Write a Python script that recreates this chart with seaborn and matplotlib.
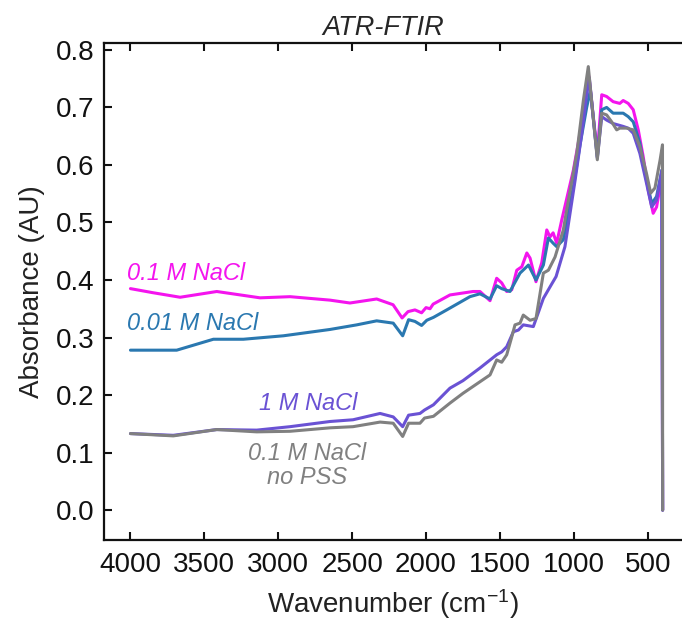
import numpy as np
import pandas as pd
import matplotlib
matplotlib.use('Agg')
import matplotlib.pyplot as plt
import seaborn as sns

# spectra (wavenumber in cm-1, absorbance in AU)
wn_01 = [4000, 3850, 3664, 3416, 3123, 2920, 2650, 2515, 2334, 2223, 2162, 2122, 2075, 2030, 2000, 1973,
         1952, 1838, 1682, 1635, 1567, 1522, 1488, 1454, 1420, 1386, 1352, 1318, 1296, 1256, 1217, 1183,
         1161, 1140, 1116, 1082, 1003, 958, 913, 898, 841, 811, 778, 734, 689, 666, 632, 598, 564, 530,
         497, 463, 440, 416, 404, 399]
abs_01 = [0.385, 0.378, 0.370, 0.380, 0.369, 0.371, 0.365, 0.360, 0.367, 0.357, 0.334, 0.345, 0.348, 0.343,
          0.352, 0.350, 0.358, 0.374, 0.380, 0.380, 0.364, 0.403, 0.395, 0.380, 0.383, 0.417, 0.423, 0.447,
          0.438, 0.397, 0.430, 0.487, 0.475, 0.482, 0.464, 0.504, 0.591, 0.655, 0.730, 0.754, 0.620, 0.722,
          0.719, 0.710, 0.707, 0.712, 0.707, 0.696, 0.661, 0.614, 0.557, 0.516, 0.527, 0.562, 0.574, 0.0]

wn_001 = [4000, 3687, 3439, 3236, 2965, 2650, 2469, 2334, 2222, 2158, 2118, 2075, 2030, 1995, 1950, 1860,
          1703, 1635, 1567, 1522, 1488, 1432, 1364, 1307, 1256, 1206, 1172, 1140, 1116, 1071, 1003, 958,
          913, 888, 841, 811, 778, 734, 666, 632, 598, 553, 508, 473, 440, 404, 399]
abs_001 = [0.278, 0.278, 0.297, 0.297, 0.303, 0.314, 0.322, 0.329, 0.325, 0.303, 0.331, 0.328, 0.321, 0.330,
           0.335, 0.348, 0.371, 0.376, 0.367, 0.390, 0.385, 0.380, 0.412, 0.426, 0.400, 0.426, 0.473, 0.464,
           0.458, 0.470, 0.562, 0.635, 0.700, 0.730, 0.614, 0.696, 0.700, 0.690, 0.690, 0.684, 0.675, 0.638,
           0.574, 0.533, 0.545, 0.591, 0.0]

wn_1 = [4000, 3710, 3416, 3146, 2920, 2650, 2494, 2311, 2222, 2158, 2118, 2041, 2010, 1950, 1838, 1750,
        1635, 1522, 1488, 1454, 1409, 1375, 1342, 1274, 1206, 1161, 1120, 1060, 991, 946, 913, 895, 841,
        811, 778, 734, 666, 632, 598, 553, 508, 473, 440, 404, 399]
abs_1 = [0.133, 0.130, 0.140, 0.139, 0.145, 0.154, 0.157, 0.168, 0.162, 0.145, 0.165, 0.168, 0.174, 0.183,
         0.212, 0.225, 0.247, 0.270, 0.275, 0.284, 0.310, 0.313, 0.322, 0.319, 0.368, 0.388, 0.406, 0.458,
         0.574, 0.655, 0.722, 0.751, 0.612, 0.684, 0.678, 0.672, 0.667, 0.664, 0.655, 0.620, 0.568, 0.527,
         0.539, 0.591, 0.0]

wn_nopss = [4000, 3710, 3416, 3146, 2920, 2650, 2494, 2311, 2222, 2158, 2118, 2041, 2010, 1950, 1838, 1750,
            1567, 1522, 1488, 1454, 1420, 1398, 1364, 1342, 1296, 1256, 1206, 1172, 1127, 1071, 1048, 980,
            935, 902, 841, 811, 778, 744, 710, 689, 643, 598, 553, 508, 480, 451, 416, 400, 399]
abs_nopss = [0.133, 0.129, 0.140, 0.136, 0.137, 0.143, 0.145, 0.153, 0.151, 0.128, 0.151, 0.151, 0.160, 0.163,
             0.186, 0.203, 0.235, 0.261, 0.257, 0.270, 0.301, 0.322, 0.325, 0.339, 0.330, 0.333, 0.412, 0.417,
             0.440, 0.487, 0.522, 0.620, 0.713, 0.771, 0.609, 0.690, 0.687, 0.675, 0.661, 0.664, 0.664, 0.661,
             0.632, 0.585, 0.551, 0.560, 0.609, 0.635, 0.0]

samples = ['0.1 M NaCl', '0.01 M NaCl', '1 M NaCl', '0.1 M NaCl\nno PSS']
colors = ['#f414ee', '#2a78b0', '#6a52d4', '#808080']
x_ticks = [4000, 3500, 3000, 2500, 2000, 1500, 1000, 500]
y_ticks = [0.0, 0.1, 0.2, 0.3, 0.4, 0.5, 0.6, 0.7, 0.8]

frames = []
for name, wn, a in zip(samples, [wn_01, wn_001, wn_1, wn_nopss], [abs_01, abs_001, abs_1, abs_nopss]):
    frames.append(pd.DataFrame({'wn': wn, 'A': a, 'sample': name}))
df = pd.concat(frames, ignore_index=True)

sns.set_style('ticks')
plt.rcParams['font.family'] = ['Liberation Sans', 'DejaVu Sans']
plt.rcParams['mathtext.fontset'] = 'custom'
plt.rcParams['mathtext.rm'] = 'Liberation Sans'
plt.rcParams['mathtext.it'] = 'Liberation Sans:italic'

fig = plt.figure(figsize=(6.82, 6.21), dpi=100)
ax = fig.add_axes([104/682, 81/621, 578/682, 497/621])

sns.lineplot(data=df, x='wn', y='A', hue='sample', hue_order=samples, palette=colors,
             estimator=None, lw=2.2, legend=False, ax=ax)

ax.set_xlim(4179, 268)
ax.set_ylim(-0.052, 0.812)
ax.set_xticks(x_ticks)
ax.set_yticks(y_ticks)
ax.set_yticklabels([f'{v:.1f}' for v in y_ticks])
ax.tick_params(direction='in', top=True, length=6, width=1.5, labelsize=20, color='#111111',
               labelcolor='#111111')
ax.tick_params(axis='x', pad=9)
ax.tick_params(axis='y', pad=7)
ax.spines['right'].set_visible(False)
for s in ['left', 'bottom', 'top']:
    ax.spines[s].set_linewidth(1.6)
    ax.spines[s].set_color('#111111')

ax.set_xlabel('Wavenumber (cm$^{-1}$)', fontsize=20, labelpad=6, color='#222222')
ax.set_ylabel('Absorbance (AU)', fontsize=20, labelpad=8, color='#222222')
ax.set_title('ATR-FTIR', fontsize=19.5, style='italic', x=(383 - 104) / 578, pad=6)

ax.text(4023, 0.412, samples[0], color=colors[0], fontsize=17, style='italic', va='center', ha='left')
ax.text(4023, 0.325, samples[1], color=colors[1], fontsize=17, style='italic', va='center', ha='left')
ax.text(2798, 0.186, samples[2], color=colors[2], fontsize=17, style='italic', va='center', ha='center')
ax.text(2805, 0.078, samples[3], color=colors[3], fontsize=17, style='italic', va='center', ha='center',
        linespacing=1.05)

plt.savefig('out.png', dpi=100)
